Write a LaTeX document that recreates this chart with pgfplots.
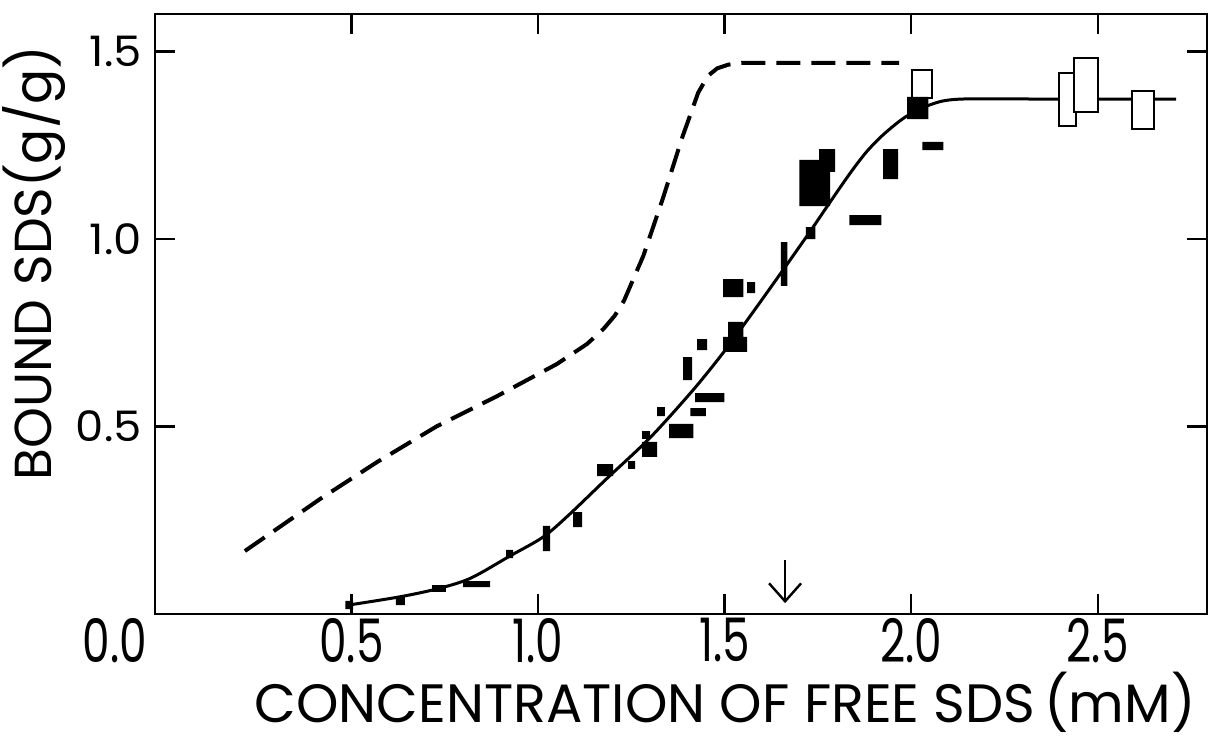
\documentclass[border=0pt]{standalone}
\usepackage{fontspec}
\setmainfont{Poppins}
\usepackage{pgfplots}
\pgfplotsset{compat=1.18}
\usetikzlibrary{arrows.meta}

% corners of the filled data boxes (x-range by y-range), one box per block
\pgfplotstableread{
x y
0.483 0.013
0.504 0.013
0.504 0.035
0.483 0.035
nan nan
0.619 0.024
0.643 0.024
0.643 0.045
0.619 0.045
nan nan
0.716 0.059
0.753 0.059
0.753 0.077
0.716 0.077
nan nan
0.799 0.072
0.871 0.072
0.871 0.088
0.799 0.088
nan nan
0.914 0.149
0.933 0.149
0.933 0.171
0.914 0.171
nan nan
1.013 0.168
1.032 0.168
1.032 0.235
1.013 0.235
nan nan
1.094 0.232
1.118 0.232
1.118 0.272
1.094 0.272
nan nan
1.158 0.368
1.201 0.368
1.201 0.400
1.158 0.400
nan nan
1.241 0.387
1.260 0.387
1.260 0.408
1.241 0.408
nan nan
1.279 0.467
1.300 0.467
1.300 0.488
1.279 0.488
nan nan
1.279 0.419
1.319 0.419
1.319 0.459
1.279 0.459
nan nan
1.319 0.528
1.340 0.528
1.340 0.552
1.319 0.552
nan nan
1.351 0.469
1.416 0.469
1.416 0.507
1.351 0.507
nan nan
1.408 0.528
1.450 0.528
1.450 0.549
1.408 0.549
nan nan
1.421 0.565
1.499 0.565
1.499 0.589
1.421 0.589
nan nan
1.389 0.624
1.413 0.624
1.413 0.685
1.389 0.685
nan nan
1.426 0.704
1.453 0.704
1.453 0.733
1.426 0.733
nan nan
1.496 0.699
1.560 0.699
1.560 0.739
1.496 0.739
nan nan
1.509 0.733
1.550 0.733
1.550 0.779
1.509 0.779
nan nan
1.496 0.845
1.550 0.845
1.550 0.893
1.496 0.893
nan nan
1.560 0.856
1.582 0.856
1.582 0.885
1.560 0.885
nan nan
1.651 0.875
1.668 0.875
1.668 0.992
1.651 0.992
nan nan
1.718 1.000
1.743 1.000
1.743 1.032
1.718 1.032
nan nan
1.700 1.088
1.783 1.088
1.783 1.211
1.700 1.211
nan nan
1.753 1.179
1.796 1.179
1.796 1.240
1.753 1.240
nan nan
1.834 1.037
1.920 1.037
1.920 1.064
1.834 1.064
nan nan
1.925 1.160
1.965 1.160
1.965 1.240
1.925 1.240
nan nan
2.030 1.237
2.086 1.237
2.086 1.259
2.030 1.259
nan nan
1.989 1.320
2.046 1.320
2.046 1.379
1.989 1.379
}\filledboxes

\pgfplotstableread{
x y
0.214 0.168
0.416 0.307
0.568 0.405
0.729 0.501
0.890 0.581
1.051 0.667
1.131 0.720
1.175 0.760
1.205 0.795
1.230 0.835
1.282 0.955
1.335 1.110
1.386 1.270
1.429 1.390
1.455 1.435
1.480 1.455
1.510 1.465
1.545 1.470
1.968 1.470
}\dashedcurve

\pgfplotstableread{
x y
0.493 0.024
0.630 0.046
0.729 0.067
0.818 0.095
0.925 0.155
1.013 0.205
1.080 0.262
1.185 0.362
1.300 0.470
1.416 0.598
1.501 0.703
1.576 0.805
1.657 0.918
1.729 1.020
1.783 1.099
1.836 1.175
1.880 1.232
1.925 1.278
1.984 1.325
2.051 1.358
2.131 1.373
2.390 1.373
2.710 1.373
}\solidcurve

\begin{document}
\begin{tikzpicture}
\begin{axis}[
  name=ax,
  scale only axis,
  width=526pt, height=300pt,
  xmin=-0.027, xmax=2.793,
  ymin=0, ymax=1.6,
  axis line style={line width=1.4pt},
  tick align=inside,
  major tick length=10pt,
  tick style={line width=1.2pt, black},
  xtick={0.5,1.0,1.5,2.0,2.5},
  xticklabels={0.5,1.0,1.5,2.0,2.5},
  ytick={0.5,1.0,1.5},
  yticklabels={0.5,1.0,1.5},
  xticklabel style={font=\fontsize{30}{33}\selectfont, xscale=0.73, inner sep=0pt, yshift=-2pt},
  yticklabel style={font=\fontsize{21}{24}\selectfont, xscale=1.07, inner sep=0pt, xshift=-6pt},
  xlabel={CONCENTRATION OF FREE SDS\,(mM)},
  ylabel={BOUND SDS(g/g)},
  every axis x label/.style={at={(rel axis cs:0.542,-0.18)}, anchor=base, font=\fontsize{27}{30}\selectfont},
  every axis y label/.style={at={(rel axis cs:-0.115,0.585)}, anchor=center, rotate=90, font=\fontsize{26}{29}\selectfont},
  unbounded coords=jump,
  clip=false,
]
\addplot[line width=2pt, dash pattern=on 12pt off 5.5pt] table {\dashedcurve};
\addplot[line width=1.5pt, smooth] table {\solidcurve};
\addplot[draw=black, fill=white, line width=1pt] coordinates {(2.003,1.376) (2.056,1.376) (2.056,1.451) (2.003,1.451)} -- cycle;
\addplot[draw=black, fill=white, line width=1pt] coordinates {(2.397,1.301) (2.442,1.301) (2.442,1.443) (2.397,1.443)} -- cycle;
\addplot[draw=black, fill=white, line width=1pt] coordinates {(2.437,1.339) (2.501,1.339) (2.501,1.483) (2.437,1.483)} -- cycle;
\addplot[draw=black, fill=white, line width=1pt] coordinates {(2.593,1.293) (2.651,1.293) (2.651,1.395) (2.593,1.395)} -- cycle;
\addplot[draw=none, fill=black] table {\filledboxes};
\draw[line width=1.2pt, -{Straight Barb[length=9pt, width=16pt, line width=1.2pt]}] (axis cs:1.662,0.144) -- (axis cs:1.662,0.029);
\node[anchor=north, inner sep=0pt, font=\fontsize{30}{33}\selectfont, xscale=0.73] at ([xshift=-20pt, yshift=-2pt]rel axis cs:0,0) {0.0};
\end{axis}
\pgfresetboundingbox
\path ([shift={(-77.5pt,-63.5pt)}]ax.south west) rectangle ([shift={(1.5pt,7pt)}]ax.north east);
\end{tikzpicture}
\end{document}
